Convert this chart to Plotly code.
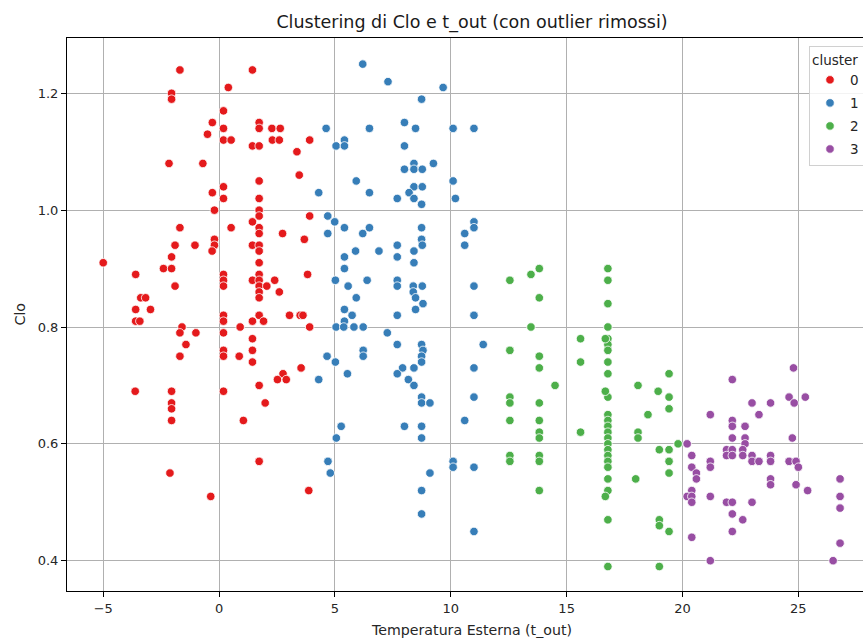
import plotly.graph_objects as go

# Outdoor temperature (t_out) and clothing insulation (Clo) per cluster
t_out_c0 = [-5.0, -3.6, -3.38, -3.17, -3.6, -2.96, -3.6, -3.42, -3.62, -2.4,
            -2.05, -2.05, -1.9, -1.9, -2.05, -2.05, -1.69, -2.16, -1.69, -1.6,
            -1.69, -1.43, -1.69, -2.05, -2.05, -2.05, -2.05, -2.12, -1.04, -1.0,
            -0.7, -0.5, -0.29, -0.29, -0.2, -0.2, -0.2, -0.3, -0.36,
            0.19, 0.19, 0.19, 0.52, 0.40, 0.19, 0.19, 0.52,
            0.19, 0.19, 0.19, 0.19, 0.19, 0.19, 0.19, 0.19, 0.19,
            0.91, 0.87, 1.05,
            1.44, 1.44, 1.44, 1.44, 1.44, 1.44, 1.44, 1.44, 1.44,
            1.73, 1.73, 1.73, 1.73, 1.73, 1.73, 1.73, 1.73, 1.73, 1.73,
            1.73, 1.73, 1.73, 1.73, 1.73, 1.73, 1.73, 1.73, 1.73, 1.73,
            1.92, 1.99, 2.06, 2.28, 2.64, 2.3, 2.6, 2.4, 2.6, 2.74,
            2.76, 2.52, 2.9, 3.04, 3.5, 3.62, 3.36, 3.46, 3.91, 3.91,
            3.68, 3.82, 3.91, 3.54, 3.87]
clo_c0 = [0.91, 0.89, 0.85, 0.85, 0.83, 0.83, 0.81, 0.81, 0.69, 0.90,
          0.92, 0.90, 0.94, 0.87, 1.20, 1.19, 1.24, 1.08, 0.97, 0.80,
          0.79, 0.77, 0.75, 0.69, 0.67, 0.66, 0.64, 0.55, 0.94, 0.79,
          1.08, 1.13, 1.15, 1.03, 1.00, 0.95, 0.94, 0.93, 0.51,
          1.17, 1.14, 1.12, 1.12, 1.21, 1.04, 1.02, 0.97,
          0.89, 0.88, 0.87, 0.82, 0.81, 0.79, 0.76, 0.75, 0.69,
          0.80, 0.75, 0.64,
          1.24, 1.11, 0.98, 0.94, 0.88, 0.81, 0.78, 0.76, 0.74,
          1.15, 1.14, 1.11, 1.05, 1.02, 1.00, 0.99, 0.97, 0.96, 0.94,
          0.93, 0.91, 0.89, 0.88, 0.87, 0.86, 0.85, 0.82, 0.70, 0.57,
          0.81, 0.67, 0.87, 1.14, 1.14, 1.12, 1.12, 0.88, 0.86, 0.96,
          0.72, 0.71, 0.71, 0.82, 0.82, 0.82, 1.10, 1.06, 1.12, 0.99,
          0.95, 0.89, 0.80, 0.73, 0.52]

t_out_c1 = [6.2, 7.29, 9.67, 8.74, 4.62, 6.49, 8.0, 8.48, 10.1, 11.0,
            5.41, 5.05, 5.41, 8.0, 8.41, 9.25, 8.0, 8.41, 8.77, 5.92,
            10.1, 4.3, 6.49, 8.41, 8.77, 8.2, 7.69, 8.41, 10.2, 8.74,
            4.69, 4.99, 5.41, 6.49, 8.74, 8.74, 11.0, 11.0, 4.69, 6.2,
            10.6, 10.6, 5.89, 6.9, 7.69, 8.41, 8.77, 5.41, 7.69, 8.41,
            5.41, 5.02, 6.39, 7.69, 7.69, 5.57, 8.38, 8.77, 8.38, 8.48,
            8.8, 8.48, 5.92, 11.0, 11.0, 5.41, 5.74, 5.41, 7.69, 5.05,
            5.38, 5.82, 6.22, 7.26, 7.69, 8.74, 8.8, 8.74, 8.74, 11.4,
            6.22, 6.22, 4.66, 5.02, 5.54, 4.3, 7.92, 8.41, 7.69, 8.17,
            8.41, 11.0, 8.74, 8.74, 9.1, 11.0, 10.6, 5.27, 5.06, 8.0,
            8.74, 8.74, 4.7, 4.8, 10.1, 10.1, 11.0, 9.1, 8.74, 8.74,
            11.0]
clo_c1 = [1.25, 1.22, 1.21, 1.19, 1.14, 1.14, 1.15, 1.14, 1.14, 1.14,
          1.12, 1.11, 1.11, 1.11, 1.08, 1.08, 1.07, 1.07, 1.07, 1.05,
          1.05, 1.03, 1.03, 1.04, 1.04, 1.03, 1.02, 1.02, 1.02, 1.01,
          0.99, 0.98, 0.97, 0.97, 0.97, 0.95, 0.98, 0.97, 0.96, 0.96,
          0.96, 0.94, 0.93, 0.93, 0.94, 0.93, 0.94, 0.92, 0.92, 0.91,
          0.90, 0.88, 0.88, 0.88, 0.87, 0.87, 0.87, 0.87, 0.86, 0.85,
          0.84, 0.83, 0.85, 0.87, 0.82, 0.83, 0.82, 0.81, 0.82, 0.80,
          0.80, 0.80, 0.80, 0.79, 0.77, 0.77, 0.76, 0.75, 0.74, 0.77,
          0.76, 0.75, 0.75, 0.74, 0.72, 0.71, 0.73, 0.73, 0.72, 0.71,
          0.70, 0.73, 0.68, 0.67, 0.67, 0.68, 0.64, 0.63, 0.61, 0.63,
          0.63, 0.61, 0.57, 0.55, 0.57, 0.56, 0.56, 0.55, 0.52, 0.48,
          0.45]

t_out_c2 = [12.55, 13.46, 13.82, 13.82, 13.46, 12.55, 13.82, 13.82, 14.5, 12.55,
            12.55, 13.82, 12.55, 13.82, 13.82, 13.82, 12.55, 12.55, 13.82, 13.82,
            13.82, 15.6, 15.6, 15.6,
            16.78, 16.78, 16.78, 16.78, 16.78, 16.78, 16.78, 16.78, 16.78, 16.78,
            16.78, 16.78, 16.78, 16.78, 16.78, 16.78, 16.78, 16.78, 16.78, 16.78,
            16.78, 16.78, 16.78, 16.78,
            16.67, 16.67, 16.67,
            18.08, 18.08, 18.08, 17.98, 18.95, 19.42, 19.42, 19.42, 18.51,
            19.81, 19.0, 19.42, 19.42, 19.42, 19.0, 19.0, 19.42, 19.0]
clo_c2 = [0.88, 0.89, 0.90, 0.85, 0.80, 0.76, 0.75, 0.73, 0.70, 0.68,
          0.67, 0.67, 0.64, 0.64, 0.62, 0.61, 0.58, 0.57, 0.58, 0.57,
          0.52, 0.78, 0.74, 0.62,
          0.90, 0.88, 0.84, 0.80, 0.78, 0.77, 0.76, 0.74, 0.72, 0.68,
          0.65, 0.64, 0.63, 0.62, 0.61, 0.60, 0.59, 0.58, 0.57, 0.56,
          0.54, 0.52, 0.47, 0.39,
          0.78, 0.69, 0.51,
          0.70, 0.62, 0.61, 0.54, 0.69, 0.72, 0.68, 0.66, 0.65,
          0.60, 0.59, 0.59, 0.57, 0.55, 0.47, 0.46, 0.45, 0.39]

t_out_c3 = [24.79, 22.15, 24.6, 25.3, 24.82, 23.0, 23.8, 23.3, 21.2, 22.15,
            22.15, 22.7, 22.15, 22.7, 22.7, 24.74, 20.2, 21.9, 22.15, 22.6,
            21.9, 22.15, 22.6, 23.0, 23.8, 20.4, 21.2, 21.2, 23.0, 23.3,
            23.8, 24.6, 24.9, 20.4, 25.0, 20.6, 20.6, 23.8, 23.8, 24.9,
            25.4, 26.8, 26.8, 26.8, 26.8, 20.4, 20.2, 20.4, 20.4, 21.2,
            21.9, 22.15, 23.0, 22.15, 22.6, 22.15, 20.4, 21.2, 26.5]
clo_c3 = [0.73, 0.71, 0.68, 0.68, 0.67, 0.67, 0.67, 0.65, 0.65, 0.64,
          0.63, 0.63, 0.61, 0.61, 0.60, 0.61, 0.60, 0.59, 0.59, 0.59,
          0.58, 0.58, 0.58, 0.58, 0.58, 0.58, 0.57, 0.56, 0.57, 0.57,
          0.57, 0.57, 0.57, 0.56, 0.56, 0.55, 0.54, 0.54, 0.53, 0.53,
          0.52, 0.54, 0.51, 0.49, 0.43, 0.52, 0.51, 0.51, 0.50, 0.51,
          0.50, 0.50, 0.50, 0.48, 0.47, 0.45, 0.44, 0.40, 0.40]

cluster_labels = ["0", "1", "2", "3"]
cluster_colors = ["#e41a1c", "#377eb8", "#4daf4a", "#984ea3"]
series = [(t_out_c0, clo_c0), (t_out_c1, clo_c1), (t_out_c2, clo_c2), (t_out_c3, clo_c3)]

FONT = "DejaVu Sans"

fig = go.Figure()
for label, color, (xs, ys) in zip(cluster_labels, cluster_colors, series):
    fig.add_trace(go.Scatter(
        x=xs, y=ys, mode="markers", name=label, legendgroup=label,
        marker=dict(size=8.5, color=color, line=dict(color="white", width=0.8)),
    ))

axis_common = dict(
    showgrid=True, gridcolor="#b0b0b0", gridwidth=1,
    showline=True, linecolor="black", linewidth=1,
    ticks="outside", ticklen=5, tickcolor="black", tickwidth=1,
    zeroline=False,
    tickfont=dict(family=FONT, size=13, color="#262626"),
)

fig.update_layout(
    width=863, height=639,
    margin=dict(l=67, r=0, t=38, b=48, autoexpand=False),
    paper_bgcolor="white", plot_bgcolor="white",
    font=dict(family=FONT, color="#262626"),
    title=dict(
        text="Clustering di Clo e t_out (con outlier rimossi)",
        x=472 / 863, xref="container", xanchor="center",
        y=1 - 22 / 639, yref="container", yanchor="middle",
        font=dict(family=FONT, size=17.5, color="#1a1a1a"),
    ),
    xaxis=dict(range=[-6.563, 27.79], tickvals=[-5, 0, 5, 10, 15, 20, 25],
               ticktext=["\u22125", "0", "5", "10", "15", "20", "25"],
               mirror=True, **axis_common),
    yaxis=dict(range=[0.3481, 1.2947], tickvals=[0.4, 0.6, 0.8, 1.0, 1.2],
               ticktext=["0.4", "0.6", "0.8", "1.0", "1.2"],
               mirror=False, **axis_common),
    legend=dict(
        title=dict(text="cluster", font=dict(family=FONT, size=13.5, color="#262626")),
        x=(809 - 67) / (863 - 67), xanchor="left",
        y=1 - (46 - 38) / (591 - 38), yanchor="top",
        tracegroupgap=2.5,
        bgcolor="rgba(255,255,255,0.85)", bordercolor="#d0d0d0", borderwidth=1,
        font=dict(family=FONT, size=13.5, color="#262626"),
    ),
    annotations=[
        dict(text="Temperatura Esterna (t_out)", xref="paper", yref="paper",
             x=(472 - 67) / (863 - 67), y=-(630 - 591) / (591 - 38),
             xanchor="center", yanchor="middle", showarrow=False,
             font=dict(family=FONT, size=14.2, color="#262626")),
        dict(text="Clo", xref="paper", yref="paper",
             x=-(67 - 19) / (863 - 67), y=0.5, textangle=-90,
             xanchor="center", yanchor="middle", showarrow=False,
             font=dict(family=FONT, size=14.2, color="#262626")),
    ],
)

fig.write_html("out.html")
